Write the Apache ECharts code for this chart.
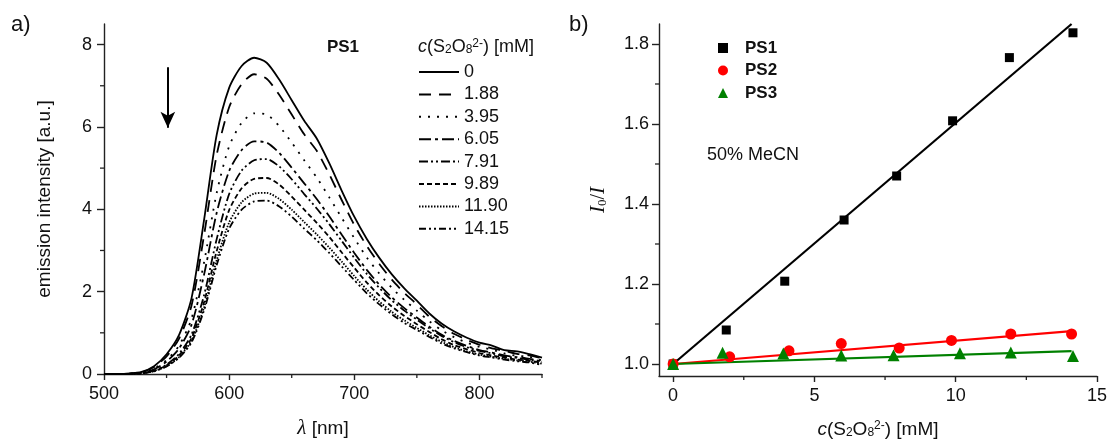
<!DOCTYPE html>
<html><head><meta charset="utf-8">
<script src="https://cdn.jsdelivr.net/npm/echarts@6/dist/echarts.min.js"></script>
<style>html,body{margin:0;padding:0;background:#fff}#c{width:1110px;height:444px}</style>
</head><body><div id="c"></div>
<script>
// ---- panel a) emission spectra (PS1) ----
const wavelengths = [500,510,520,530,540,550,560,570,580,590,600,610,620,630,640,650,660,670,680,690,700,710,720,730,740,750,760,770,780,790,800,810,820,830,840,850];
const concLabels = ['0','1.88','3.95','6.05','7.91','9.89','11.90','14.15'];
const em_0    = [0,0,0.01,0.05,0.19,0.48,0.95,1.85,3.75,5.8,6.95,7.48,7.68,7.56,7.15,6.65,6.15,5.72,5.12,4.45,3.82,3.28,2.82,2.42,2.08,1.78,1.47,1.22,1.03,0.88,0.76,0.69,0.58,0.55,0.48,0.40];
const em_188  = [0,0,0.01,0.04,0.17,0.43,0.86,1.67,3.38,5.31,6.48,7.04,7.28,7.17,6.78,6.30,5.82,5.42,4.85,4.22,3.62,3.11,2.67,2.29,1.97,1.69,1.39,1.16,0.97,0.83,0.71,0.62,0.56,0.49,0.45,0.38];
const em_395  = [0,0,0.006,0.033,0.13,0.34,0.69,1.35,2.72,4.39,5.53,6.10,6.33,6.30,6.02,5.62,5.19,4.77,4.29,3.79,3.30,2.83,2.44,2.09,1.80,1.54,1.28,1.06,0.89,0.76,0.66,0.59,0.50,0.44,0.42,0.33];
const em_605  = [0,0,0.006,0.03,0.115,0.30,0.62,1.20,2.42,3.91,4.93,5.44,5.65,5.62,5.37,5.01,4.63,4.25,3.83,3.38,2.94,2.53,2.17,1.86,1.60,1.37,1.15,0.95,0.80,0.68,0.58,0.52,0.45,0.41,0.37,0.31];
const em_791  = [0,0,0.003,0.02,0.08,0.23,0.49,0.96,1.92,3.27,4.37,4.94,5.19,5.22,5.04,4.73,4.37,4.02,3.64,3.23,2.82,2.43,2.09,1.79,1.54,1.32,1.11,0.92,0.77,0.65,0.56,0.50,0.43,0.39,0.35,0.30];
const em_989  = [0,0,0.003,0.02,0.075,0.21,0.45,0.875,1.75,2.98,3.98,4.51,4.74,4.76,4.60,4.31,3.99,3.67,3.33,2.95,2.58,2.22,1.91,1.64,1.41,1.21,1.02,0.84,0.70,0.60,0.51,0.45,0.40,0.35,0.32,0.27];
const em_1190 = [0,0,0.003,0.017,0.07,0.19,0.41,0.81,1.62,2.76,3.68,4.17,4.38,4.40,4.25,3.99,3.69,3.39,3.07,2.73,2.38,2.05,1.76,1.51,1.30,1.12,0.94,0.78,0.65,0.55,0.47,0.42,0.37,0.33,0.30,0.25];
const em_1415 = [0,0,0.003,0.017,0.066,0.185,0.395,0.77,1.55,2.64,3.53,3.99,4.19,4.21,4.07,3.82,3.53,3.25,2.94,2.61,2.28,1.96,1.69,1.45,1.24,1.07,0.90,0.74,0.62,0.53,0.45,0.40,0.35,0.31,0.28,0.22];
const xTicksA = [500,600,700,800];
const xMinorA = [550,650,750,850];
const yTicksA = [0,2,4,6,8];
const yMinorA = [1,3,5,7];
const arrowX = [551,551];
const arrowY = [7.45,5.98];

// ---- panel b) Stern-Volmer ----
const ps1_x = [0,1.88,3.95,6.05,7.91,9.89,11.90,14.15];
const ps1_y = [1.0,1.085,1.207,1.36,1.47,1.608,1.766,1.828];
const ps2_x = [0,2.0,4.1,5.95,8.0,9.85,11.95,14.1];
const ps2_y = [1.0,1.018,1.033,1.051,1.04,1.059,1.075,1.075];
const ps3_x = [0,1.75,3.9,5.95,7.8,10.15,11.95,14.15];
const ps3_y = [1.0,1.028,1.026,1.021,1.022,1.027,1.029,1.02];
const fit_x  = [0,14.1];
const fit1_y = [1.0,1.85];
const fit2_y = [1.0,1.082];
const fit3_y = [1.0,1.032];
const xTicksB = [0,5,10,15];
const xMinorB = [2.5,7.5,12.5];
const yTicksB = [1.0,1.2,1.4,1.6,1.8];
const yMinorB = [1.1,1.3,1.5,1.7];

const spectra = [em_0,em_188,em_395,em_605,em_791,em_989,em_1190,em_1415];
const dashes = ['solid',[12,8],[2,7],[12,4,3,4],[9,3,2,3,2,3],[5,3],[1.5,1.5],[7,3,2,3,2,3]];
const FONT = 'Liberation Sans, Arial, Helvetica, sans-serif';
const SERIF = 'Liberation Serif, Times New Roman, serif';
const AX = '#222';
const RED = '#ff0000';
const GREEN = '#008000';
const RANGE_A = {x:[500,850], y:[0,8.5]};
const RANGE_B = {x:[-0.5,15], y:[0.97,1.85]};

const chart = echarts.init(document.getElementById('c'));
const pair = (xs, ys) => xs.map((x,i)=>[x, ys[i]]);

function mainAxis(extra){
  return Object.assign({
    type:'value', splitLine:{show:false},
    axisLine:{show:true, onZero:false, lineStyle:{color:AX, width:1.4}},
    axisTick:{show:true, inside:false, length:6, lineStyle:{color:AX, width:1.4}},
    axisLabel:{fontSize:18, color:'#111', fontFamily:FONT},
    nameTextStyle:{fontSize:19, color:'#111', fontFamily:FONT}
  }, extra);
}
// minor tick marks drawn through the axes' own scales
function minorTicks(xi, range, xs, ys){
  const data = xs.map(v=>[v, range.y[0], 0]).concat(ys.map(v=>[range.x[0], v, 1]));
  return {
    type:'custom', xAxisIndex:xi, yAxisIndex:xi, silent:true, clip:false, z:5,
    data:data,
    renderItem:(params, api)=>{
      const p = api.coord([api.value(0), api.value(1)]);
      const vert = api.value(2) === 0;
      return {type:'line', shape: vert ? {x1:p[0], y1:p[1], x2:p[0], y2:p[1]+4} : {x1:p[0], y1:p[1], x2:p[0]-4, y2:p[1]},
              style:{stroke:AX, lineWidth:1.3}};
    }
  };
}
const subRich = {
  i:{fontStyle:'italic', fontSize:19, fontFamily:FONT, color:'#111'},
  sub:{fontSize:12, fontFamily:FONT, color:'#111', verticalAlign:'bottom', lineHeight:12},
  sup:{fontSize:12, fontFamily:FONT, color:'#111', verticalAlign:'top', lineHeight:12}
};

const series = [];
spectra.forEach((arr, k) => {
  const s = {
    name: concLabels[k], type:'line', xAxisIndex:0, yAxisIndex:0,
    data: pair(wavelengths, arr), symbol:'none', smooth:0.25,
    lineStyle:{color:'#000', width:1.8, type:dashes[k]}, itemStyle:{color:'#000'}
  };
  if (k === 0) {
    s.markLine = {
      silent:true, symbol:['none','arrow'], symbolSize:[11,16], animation:false,
      lineStyle:{color:'#000', width:2, type:'solid'}, label:{show:false},
      data:[[{coord:[arrowX[0], arrowY[0]]},{coord:[arrowX[1], arrowY[1]]}]]
    };
  }
  series.push(s);
});
const fits = [[fit1_y,'#000'],[fit2_y,RED],[fit3_y,GREEN]];
fits.forEach((f,i)=>series.push({
  name:'fit'+(i+1), type:'line', xAxisIndex:1, yAxisIndex:1, data:pair(fit_x,f[0]),
  symbol:'none', lineStyle:{color:f[1], width:2.2}, silent:true, z:2
}));
series.push({name:'PS1', type:'scatter', xAxisIndex:1, yAxisIndex:1, data:pair(ps1_x,ps1_y), symbol:'rect', symbolSize:9, itemStyle:{color:'#000', opacity:1}, z:3});
series.push({name:'PS2', type:'scatter', xAxisIndex:1, yAxisIndex:1, data:pair(ps2_x,ps2_y), symbol:'circle', symbolSize:11, itemStyle:{color:RED, opacity:1}, z:3});
series.push({name:'PS3', type:'scatter', xAxisIndex:1, yAxisIndex:1, data:pair(ps3_x,ps3_y), symbol:'triangle', symbolSize:12, itemStyle:{color:GREEN, opacity:1}, z:3});
series.push(Object.assign({name:'minorA'}, minorTicks(0, RANGE_A, xMinorA, yMinorA)));
series.push(Object.assign({name:'minorB'}, minorTicks(1, RANGE_B, xMinorB, yMinorB)));

const option = {
  animation:false,
  backgroundColor:'#fff',
  grid:[
    {left:104, right:568, top:24, bottom:67},
    {left:659, right:12, top:24, bottom:67}
  ],
  xAxis:[
    mainAxis({gridIndex:0, min:RANGE_A.x[0], max:RANGE_A.x[1], position:'bottom',
      axisTick:{show:true, length:6, lineStyle:{color:AX, width:1.4}, customValues:xTicksA},
      axisLabel:{fontSize:18, color:'#111', fontFamily:FONT, margin:11, customValues:xTicksA},
      name:'{i|λ} [nm]', nameLocation:'middle', nameGap:44,
      nameTextStyle:{fontSize:19, color:'#111', fontFamily:FONT, rich:{i:{fontStyle:'italic', fontFamily:SERIF, fontSize:21, color:'#111'}}}}),
    mainAxis({gridIndex:1, min:RANGE_B.x[0], max:RANGE_B.x[1], position:'bottom',
      axisTick:{show:true, length:6, lineStyle:{color:AX, width:1.4}, customValues:xTicksB},
      axisLabel:{fontSize:18, color:'#111', fontFamily:FONT, margin:11, customValues:xTicksB},
      name:'{i|c}(S{sub|2}O{sub|8}{sup|2-}) [mM]', nameLocation:'middle', nameGap:44,
      nameTextStyle:{fontSize:19, color:'#111', fontFamily:FONT, rich:subRich}})
  ],
  yAxis:[
    mainAxis({gridIndex:0, min:RANGE_A.y[0], max:RANGE_A.y[1], position:'left',
      axisTick:{show:true, length:7, lineStyle:{color:AX, width:1.4}, customValues:yTicksA},
      axisLabel:{fontSize:18, color:'#111', fontFamily:FONT, margin:12, customValues:yTicksA},
      name:'emission intensity [a.u.]', nameLocation:'middle', nameGap:50}),
    mainAxis({gridIndex:1, min:RANGE_B.y[0], max:RANGE_B.y[1], position:'left',
      axisTick:{show:true, length:7, lineStyle:{color:AX, width:1.4}, customValues:yTicksB},
      axisLabel:{fontSize:18, color:'#111', fontFamily:FONT, margin:10, customValues:yTicksB, formatter:v=>Number(v).toFixed(1)},
      name:'{i|I}{sub|0}/{i|I}', nameLocation:'middle', nameGap:50,
      nameTextStyle:{fontSize:20, color:'#111', fontFamily:SERIF, rich:{
        i:{fontStyle:'italic', fontFamily:SERIF, fontSize:21, color:'#111'},
        sub:{fontSize:13, fontFamily:SERIF, color:'#111', verticalAlign:'bottom', lineHeight:13}}}})
  ],
  legend:[
    {data:concLabels, orient:'vertical', left:418, top:63, padding:0, itemWidth:40, itemHeight:14, itemGap:4.4,
     selectedMode:false, itemStyle:{opacity:0},
     textStyle:{fontSize:18, lineHeight:18, color:'#111', fontFamily:FONT}},
    {data:[{name:'PS1', icon:'rect'},{name:'PS2', icon:'circle'},{name:'PS3', icon:'triangle'}],
     orient:'vertical', left:718, top:39, padding:0, itemWidth:10, itemHeight:10, itemGap:4.5, selectedMode:false,
     textStyle:{fontSize:17, fontWeight:'bold', lineHeight:18, color:'#111', fontFamily:FONT, padding:[0,0,0,12]}}
  ],
  graphic:[
    {type:'text', left:11, top:14, style:{text:'a)', font:'22px '+FONT, fill:'#111'}},
    {type:'text', left:569, top:14, style:{text:'b)', font:'22px '+FONT, fill:'#111'}},
    {type:'text', x:343, y:47, style:{text:'PS1', font:'bold 17px '+FONT, fill:'#111', align:'center', verticalAlign:'middle'}},
    {type:'text', x:418, y:47, style:{text:'{i|c}(S{sub|2}O{sub|8}{sup|2-}) [mM]', fontSize:18, fontFamily:FONT, fill:'#111', align:'left', verticalAlign:'middle',
      rich:{i:{fontStyle:'italic', fontSize:18, fontFamily:FONT, fill:'#111'},
            sub:{fontSize:12, fontFamily:FONT, fill:'#111', verticalAlign:'bottom', lineHeight:12},
            sup:{fontSize:12, fontFamily:FONT, fill:'#111', verticalAlign:'top', lineHeight:12}}}},
    {type:'text', x:707, y:155, style:{text:'50% MeCN', font:'18px '+FONT, fill:'#111', align:'left', verticalAlign:'middle'}}
  ],
  series: series
};
chart.setOption(option);
</script>
</body></html>
